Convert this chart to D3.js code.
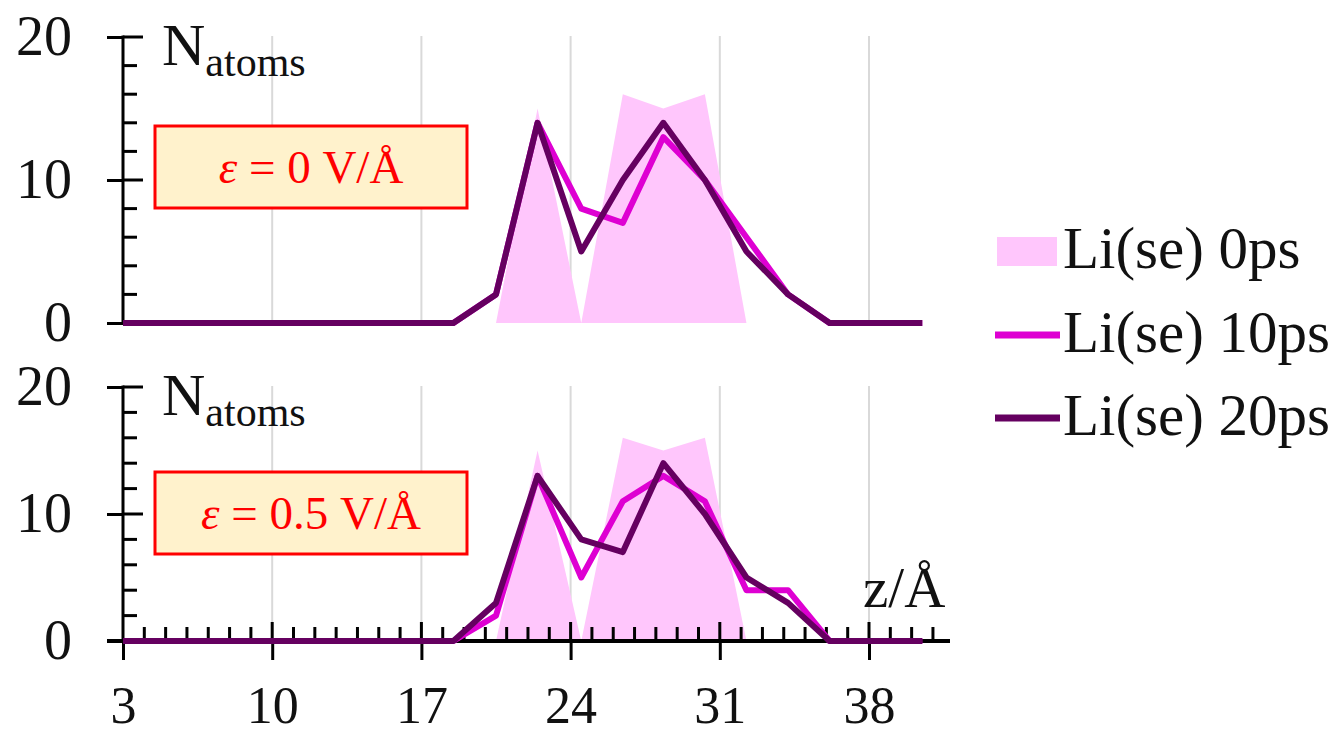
<!DOCTYPE html>
<html>
<head>
<meta charset="utf-8">
<script src="https://cdn.jsdelivr.net/npm/d3@7"></script>
<style>
  html, body { margin: 0; padding: 0; background: #ffffff; }
  svg { display: block; }
  text { font-family: "Liberation Serif", "Times New Roman", serif; }
</style>
</head>
<body>
<svg id="chart" width="1344" height="735"></svg>
<script>
// z positions (Å) of the histogram bins
const zBins = [3, 18.5, 20.5, 22.45, 24.5, 26.45, 28.35, 30.3, 32.25, 34.2, 36.15, 40.5];

// Li(se) counts at 0 ps (same start configuration for both fields)
const li0ps = [0, 0, 0, 15, 0, 16, 15, 16, 0, 0, 0, 0];

// field 0 V/Å
const topLi10ps = [0, 0, 2, 14, 8, 7, 13, 10, 6, 2, 0, 0];
const topLi20ps = [0, 0, 2, 14, 5, 10, 14, 10, 5, 2, 0, 0];

// field 0.5 V/Å
const botLi10ps = [0, 0, 2, 13, 5, 11, 13, 11, 4, 4, 0, 0];
const botLi20ps = [0, 0, 3, 13, 8, 7, 14, 10, 5, 3, 0, 0];

const xTickValues = [3, 10, 17, 24, 31, 38];
const yTickValues = [0, 10, 20];
const seriesNames = ["Li(se) 0ps", "Li(se) 10ps", "Li(se) 20ps"];
const fieldLabels = ["0 V/Å", "0.5 V/Å"];

const colors = { area: "#ffc6fc", l10: "#de00d2", l20: "#650060", grid: "#d9d9d9" };

const svg = d3.select("#chart");

const x = d3.scaleLinear().domain([3, 41.8]).range([123, 950]);
const yTop = d3.scaleLinear().domain([0, 20]).range([323, 37]);
const yBot = d3.scaleLinear().domain([0, 20]).range([641, 387]);

const minorY = d3.range(0, 21, 2);
const minorX = d3.range(4, 42, 1).filter(v => !xTickValues.includes(v));

function panel(y, l10, l20, label, boxTop, showXAxis) {
  const g = svg.append("g");

  // vertical grid lines
  g.selectAll("line.grid").data(xTickValues.slice(1)).join("line")
    .attr("x1", d => x(d)).attr("x2", d => x(d))
    .attr("y1", y(20) - 1).attr("y2", y(0))
    .attr("stroke", colors.grid).attr("stroke-width", 2);

  // 0 ps area
  const area = d3.area().x((d, i) => x(zBins[i])).y0(y(0)).y1(d => y(d));
  g.append("path").datum(li0ps).attr("d", area).attr("fill", colors.area);

  // y axis with labels
  const yAxis = d3.axisLeft(y).tickValues(yTickValues).tickSize(16).tickPadding(35);
  const ya = g.append("g").attr("transform", `translate(${x(3)},0)`).call(yAxis);
  ya.select(".domain").remove();
  ya.selectAll(".tick line").attr("stroke", "#000").attr("stroke-width", 3);
  ya.selectAll(".tick text").attr("font-size", 56).attr("fill", "#111")
    .attr("font-family", "Liberation Serif, serif");

  // inner ticks (major longer)
  g.selectAll("line.ym").data(minorY).join("line")
    .attr("x1", x(3)).attr("x2", d => x(3) + (d % 10 === 0 ? 20 : 14))
    .attr("y1", d => y(d)).attr("y2", d => y(d))
    .attr("stroke", "#000").attr("stroke-width", 3);
  g.append("line").attr("x1", x(3)).attr("x2", x(3))
    .attr("y1", y(20) - 1.5).attr("y2", y(0) + 1.5)
    .attr("stroke", "#000").attr("stroke-width", 3);

  if (showXAxis) {
    const xAxis = d3.axisBottom(x).tickValues(xTickValues).tickSize(19).tickPadding(26);
    const xa = g.append("g").attr("transform", `translate(0,${y(0)})`).call(xAxis);
    xa.select(".domain").remove();
    xa.selectAll(".tick line").attr("stroke", "#000").attr("stroke-width", 3);
    xa.selectAll(".tick text").attr("font-size", 52).attr("fill", "#111")
      .attr("font-family", "Liberation Serif, serif");
    g.append("line").attr("x1", x(3) - 16).attr("x2", x(41.8))
      .attr("y1", y(0)).attr("y2", y(0)).attr("stroke", "#000").attr("stroke-width", 4);
    g.selectAll("line.xm").data(minorX).join("line")
      .attr("x1", d => x(d)).attr("x2", d => x(d))
      .attr("y1", y(0)).attr("y2", y(0) - 14)
      .attr("stroke", "#000").attr("stroke-width", 3);
    g.selectAll("line.xM").data(xTickValues.slice(1)).join("line")
      .attr("x1", d => x(d)).attr("x2", d => x(d))
      .attr("y1", y(0)).attr("y2", y(0) - 19)
      .attr("stroke", "#000").attr("stroke-width", 3);
    g.append("text").attr("x", 863).attr("y", 607).attr("font-size", 57)
      .attr("fill", "#111").text("z/Å");
  }

  // lines
  const line = d3.line().x((d, i) => x(zBins[i])).y(d => y(d));
  g.append("path").datum(l10).attr("d", line).attr("fill", "none")
    .attr("stroke", colors.l10).attr("stroke-width", 6).attr("stroke-linejoin", "round");
  g.append("path").datum(l20).attr("d", line).attr("fill", "none")
    .attr("stroke", colors.l20).attr("stroke-width", 6).attr("stroke-linejoin", "round");

  // N_atoms label
  const nt = g.append("text").attr("x", 162).attr("y", y(20) + 28).attr("fill", "#111");
  nt.append("tspan").attr("font-size", 60).text("N");
  nt.append("tspan").attr("font-size", 42).attr("dy", 11).text("atoms");

  // field annotation box
  g.append("rect").attr("x", 155).attr("y", boxTop).attr("width", 312).attr("height", 82)
    .attr("fill", "#fff2cc").attr("stroke", "#ff0000").attr("stroke-width", 3);
  const bt = g.append("text").attr("x", 311).attr("y", boxTop + 57)
    .attr("text-anchor", "middle").attr("font-size", 47).attr("fill", "#ff0000");
  bt.append("tspan").attr("font-style", "italic").text("ε");
  bt.append("tspan").text(" = " + label);
}

panel(yTop, topLi10ps, topLi20ps, fieldLabels[0], 126, false);
panel(yBot, botLi10ps, botLi20ps, fieldLabels[1], 472, true);

// legend
const lg = svg.append("g");
lg.append("rect").attr("x", 997).attr("y", 237).attr("width", 60).attr("height", 29).attr("fill", colors.area);
lg.append("line").attr("x1", 995).attr("x2", 1060).attr("y1", 335).attr("y2", 335)
  .attr("stroke", colors.l10).attr("stroke-width", 7);
lg.append("line").attr("x1", 995).attr("x2", 1060).attr("y1", 418).attr("y2", 418)
  .attr("stroke", colors.l20).attr("stroke-width", 7);
lg.selectAll("text").data(seriesNames).join("text")
  .attr("x", 1063).attr("y", (d, i) => [268, 352, 435][i])
  .attr("font-size", 59).attr("fill", "#111").text(d => d);
</script>
</body>
</html>
